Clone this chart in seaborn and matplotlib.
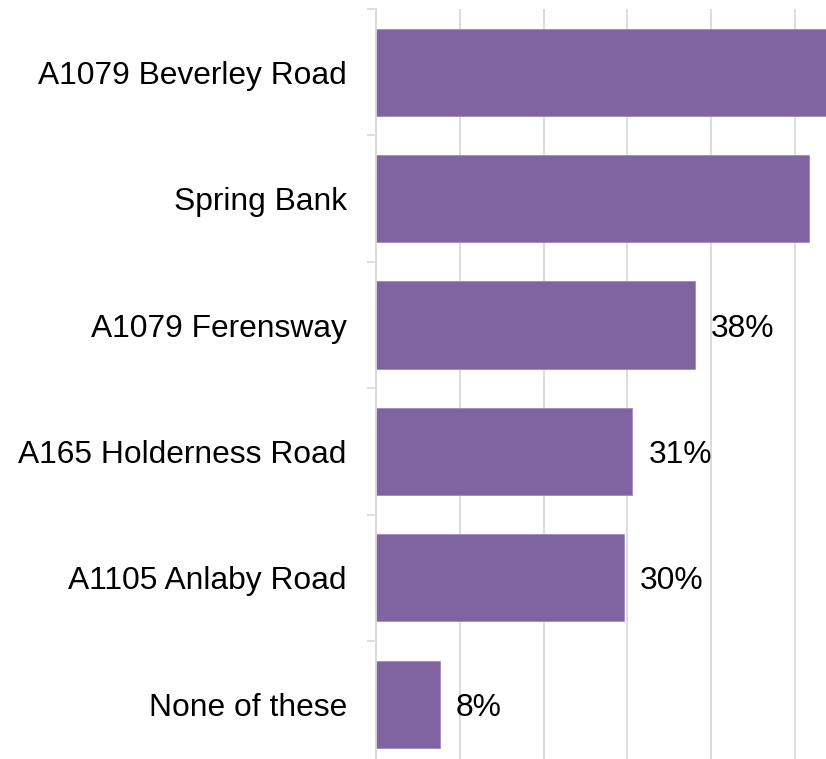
import pandas as pd
import seaborn as sns
import matplotlib.pyplot as plt
from matplotlib.ticker import MultipleLocator

# Roads data (%)
roads = ['A1079 Beverley Road', 'Spring Bank', 'A1079 Ferensway',
         'A165 Holderness Road', 'A1105 Anlaby Road', 'None of these']
share = [55.0, 51.7, 38.1, 30.6, 29.6, 7.6]

df = pd.DataFrame({'road': roads, 'share': share})

sns.set_style('white')
plt.rcParams['font.family'] = ['Liberation Sans', 'DejaVu Sans']

fig = plt.figure(figsize=(8.26, 7.59), dpi=100)
ax = fig.add_axes([0.4552, -0.0111, 0.6087, 0.9992])

sns.barplot(data=df, x='share', y='road', orient='h', color='#8064A2',
            saturation=1, width=0.69, edgecolor='#A08CC0', linewidth=0.6, ax=ax)

value_labels = ax.bar_label(ax.containers[0], labels=[f'{v:.0f}%' for v in share],
                            padding=11.5, fontsize=22.9, color='black')
for t in value_labels:
    t.set_va('center_baseline')

ax.set_xlim(0, 60)
ax.set_ylim(5.5, -0.5)
ax.xaxis.set_major_locator(MultipleLocator(10))
ax.grid(axis='x', color='#D9D9D9', linewidth=1.3)
ax.set_axisbelow(True)
ax.set_xticklabels([])
ax.tick_params(axis='x', length=0)
ax.set_xlabel('')
ax.set_ylabel('')

ax.set_yticks([i - 0.5 for i in range(7)], minor=True)
ax.tick_params(axis='y', which='major', length=0, pad=21, labelsize=22.9,
               labelcolor='black')
ax.tick_params(axis='y', which='minor', length=6.5, width=1.2, color='#D9D9D9', left=True)

for side in ['top', 'right', 'bottom']:
    ax.spines[side].set_visible(False)
ax.spines['left'].set_color('#D9D9D9')
ax.spines['left'].set_linewidth(1.3)

fig.savefig('out.png', dpi=100)
